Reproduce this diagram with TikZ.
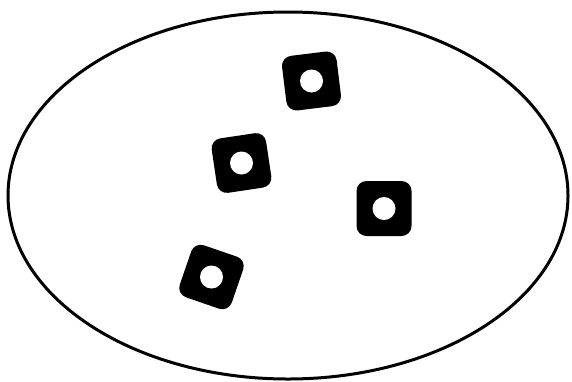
\documentclass[tikz,border=0pt]{standalone}
\usetikzlibrary{shapes.geometric}
\begin{document}
\begin{tikzpicture}[x=1pt,y=-1pt,
  plate/.style={draw=none,fill=black,rounded corners=10pt,minimum size=55pt,inner sep=0pt,outer sep=0pt},
  hole/.style={circle,fill=white,draw=none,minimum size=23pt,inner sep=0pt}]
\useasboundingbox (0,0) rectangle (572,381);
\node[ellipse,draw=black,line width=3pt,minimum width=560pt,minimum height=367pt,inner sep=0pt] (outer) at (288,195.5) {};
\node[plate,rotate=7] (p1) at (311.5,81) {};
\node[hole] (h1) at (p1.center) {};
\node[plate,rotate=8.5] (p2) at (241.5,163) {};
\node[hole] (h2) at (p2.center) {};
\node[plate,rotate=0] (p3) at (384,208.5) {};
\node[hole] (h3) at (p3.center) {};
\node[plate,rotate=-19] (p4) at (211.5,277) {};
\node[hole] (h4) at (p4.center) {};
\end{tikzpicture}
\end{document}
